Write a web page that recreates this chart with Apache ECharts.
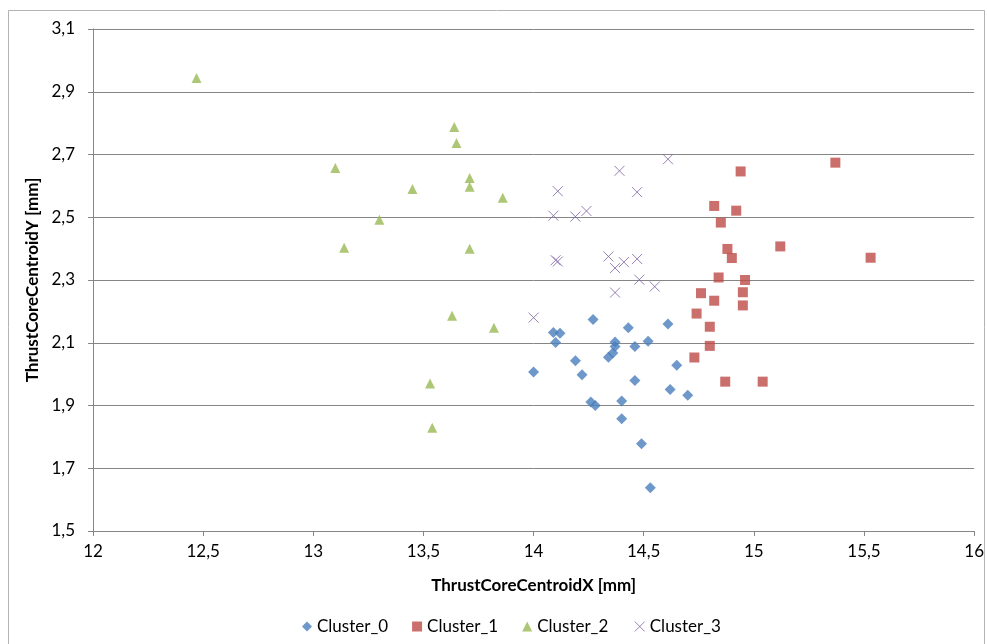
<!DOCTYPE html>
<html lang="en">
<head>
    <meta charset="UTF-8">
    <title>ThrustCoreCentroid clusters</title>
    <script src="https://cdn.jsdelivr.net/npm/echarts@6/dist/echarts.min.js"></script>
    <style>
        html, body { margin: 0; padding: 0; background: #fff; }
        #chart { width: 987px; height: 644px; }
    </style>
</head>
<body>
<div id="chart"></div>
<script>
    // cluster data, [x, y] in mm
    const cluster0 = [
        [14.00, 2.007], [14.09, 2.133], [14.12, 2.130], [14.10, 2.101], [14.27, 2.174],
        [14.43, 2.148], [14.61, 2.160], [14.37, 2.102], [14.37, 2.088], [14.36, 2.067],
        [14.34, 2.054], [14.46, 2.088], [14.52, 2.105], [14.19, 2.043], [14.22, 1.998],
        [14.65, 2.028], [14.46, 1.980], [14.62, 1.951], [14.70, 1.933], [14.26, 1.911],
        [14.28, 1.900], [14.40, 1.914], [14.40, 1.858], [14.49, 1.778], [14.53, 1.638]
    ];
    const cluster1 = [
        [15.37, 2.674], [14.94, 2.646], [14.82, 2.536], [14.92, 2.521], [14.85, 2.483],
        [14.88, 2.399], [14.90, 2.370], [15.12, 2.407], [15.53, 2.371], [14.84, 2.308],
        [14.96, 2.300], [14.76, 2.258], [14.82, 2.234], [14.95, 2.261], [14.95, 2.219],
        [14.74, 2.193], [14.80, 2.151], [14.80, 2.090], [14.73, 2.053], [14.87, 1.976],
        [15.04, 1.976]
    ];
    const cluster2 = [
        [12.47, 2.944], [13.10, 2.657], [13.14, 2.403], [13.30, 2.492], [13.45, 2.590],
        [13.64, 2.788], [13.65, 2.737], [13.71, 2.625], [13.71, 2.597], [13.86, 2.562],
        [13.71, 2.400], [13.63, 2.186], [13.82, 2.148], [13.53, 1.970], [13.54, 1.829]
    ];
    const cluster3 = [
        [14.39, 2.648], [14.11, 2.583], [14.47, 2.580], [14.09, 2.505], [14.19, 2.502],
        [14.24, 2.520], [14.10, 2.363], [14.11, 2.359], [14.34, 2.375], [14.37, 2.338],
        [14.41, 2.357], [14.47, 2.367], [14.48, 2.301], [14.55, 2.279], [14.37, 2.260],
        [14.00, 2.180], [14.61, 2.685]
    ];
    const seriesNames = ['Cluster_0', 'Cluster_1', 'Cluster_2', 'Cluster_3'];

    const font = 'Lato, "Open Sans", sans-serif';
    const crossIcon = 'path://M0,0L10,10M10,0L0,10';
    const comma = v => String(Math.round(v * 10) / 10).replace('.', ',');

    const chart = echarts.init(document.getElementById('chart'));
    chart.setOption({
        animation: false,
        textStyle: {fontFamily: font},
        graphic: [{
            type: 'rect',
            shape: {x: 8.5, y: 10.5, width: 976, height: 640},
            style: {fill: 'none', stroke: '#b3b3b3', lineWidth: 1},
            silent: true
        }],
        grid: {left: 93, right: 11, top: 29, bottom: 113},
        legend: {
            bottom: 4,
            left: 297,
            itemWidth: 10,
            itemHeight: 10,
            itemGap: 24,
            textStyle: {fontSize: 17, color: '#000', fontFamily: font},
            data: [
                {name: 'Cluster_0', icon: 'diamond'},
                {name: 'Cluster_1', icon: 'rect'},
                {name: 'Cluster_2', icon: 'triangle'},
                {name: 'Cluster_3', icon: crossIcon, itemStyle: {color: 'none', borderColor: '#8064A2', borderWidth: 1}}
            ]
        },
        xAxis: {
            type: 'value',
            min: 12, max: 16, interval: 0.5,
            name: 'ThrustCoreCentroidX [mm]',
            nameLocation: 'middle',
            nameGap: 46,
            nameTextStyle: {fontSize: 17, fontWeight: 'bold', color: '#000'},
            axisLine: {show: true, lineStyle: {color: '#868686'}},
            axisTick: {show: true, length: 5, lineStyle: {color: '#868686'}},
            axisLabel: {fontSize: 17, color: '#000', margin: 12, formatter: comma},
            splitLine: {show: false}
        },
        yAxis: {
            type: 'value',
            min: 1.5, max: 3.1, interval: 0.2,
            name: 'ThrustCoreCentroidY [mm]',
            nameLocation: 'middle',
            nameGap: 46,
            nameRotate: 90,
            nameTextStyle: {fontSize: 17, fontWeight: 'bold', color: '#000'},
            axisLine: {show: true, lineStyle: {color: '#868686'}},
            axisTick: {show: true, length: 5, lineStyle: {color: '#868686'}},
            axisLabel: {fontSize: 17, color: '#000', margin: 18, formatter: comma},
            splitLine: {show: true, lineStyle: {color: '#868686'}}
        },
        series: [
            {
                name: seriesNames[0], type: 'scatter', data: cluster0,
                symbol: 'diamond', symbolSize: 11,
                itemStyle: {color: '#4A7EBB'}
            },
            {
                name: seriesNames[1], type: 'scatter', data: cluster1,
                symbol: 'rect', symbolSize: 10,
                itemStyle: {color: '#BE4B48'}
            },
            {
                name: seriesNames[2], type: 'scatter', data: cluster2,
                symbol: 'triangle', symbolSize: 10,
                itemStyle: {color: '#98B954'}
            },
            {
                name: seriesNames[3], type: 'scatter', data: cluster3,
                symbol: crossIcon, symbolSize: 10,
                itemStyle: {color: 'none', borderColor: '#7D60A0', borderWidth: 1}
            }
        ]
    });
</script>
</body>
</html>
